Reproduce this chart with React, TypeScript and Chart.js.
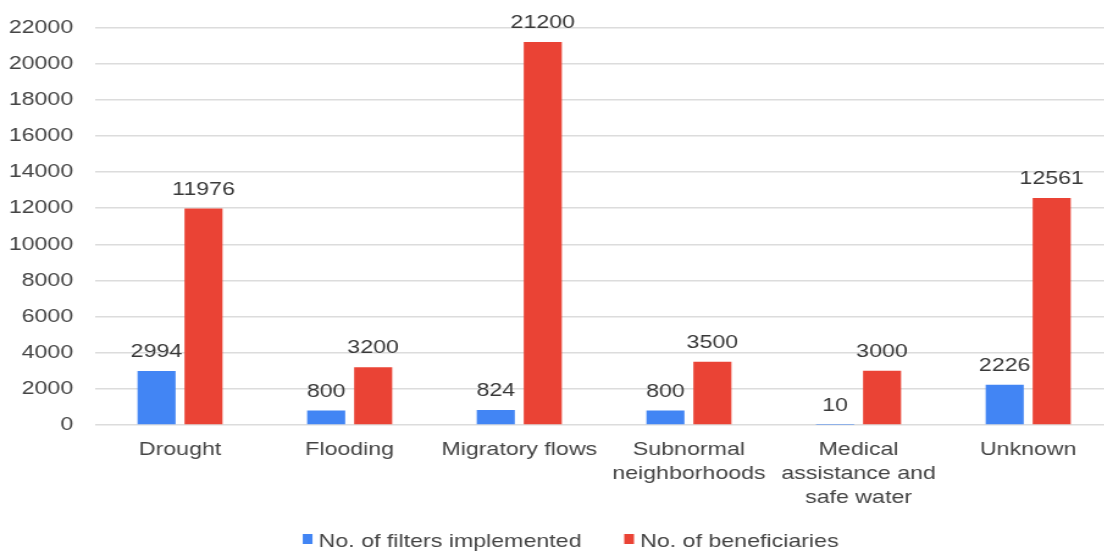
import React, { useEffect, useRef } from "react";
import { Chart, registerables } from "chart.js";

Chart.register(...registerables);

const categories: (string | string[])[] = [
  "Drought",
  "Flooding",
  "Migratory flows",
  ["Subnormal", "neighborhoods"],
  ["Medical", "assistance and", "safe water"],
  "Unknown",
];
const filtersImplemented = [2994, 800, 824, 800, 10, 2226];
const beneficiaries = [11976, 3200, 21200, 3500, 3000, 12561];
const seriesNames = ["No. of filters implemented", "No. of beneficiaries"];
const yMax = 22000;
const yStep = 2000;

const SX = 1.22;
const CW = 912;
const CH = 560;
const FONT = "'Liberation Sans', Arial, sans-serif";

const valueLabels = {
  id: "valueLabels",
  afterDatasetsDraw(chart: any) {
    const ctx = chart.ctx;
    ctx.save();
    ctx.font = `19px ${FONT}`;
    ctx.fillStyle = "#383838";
    ctx.textAlign = "center";
    ctx.textBaseline = "alphabetic";
    chart.data.datasets.forEach((ds: any, i: number) => {
      const meta = chart.getDatasetMeta(i);
      meta.data.forEach((el: any, j: number) => {
        ctx.fillText(String(ds.data[j]), el.x, el.y - 14);
      });
    });
    ctx.restore();
  },
};

// Legend drawn below the axis, centred around a fixed point
const bottomLegend = {
  id: "bottomLegend",
  afterDraw(chart: any) {
    const ctx = chart.ctx;
    ctx.save();
    ctx.font = `19px ${FONT}`;
    ctx.textBaseline = "alphabetic";
    ctx.textAlign = "left";
    const box = 8;
    const boxGap = 5;
    const itemGap = 35;
    const items = chart.data.datasets.map((ds: any) => ({
      text: ds.label,
      color: ds.backgroundColor,
      w: box + boxGap + ctx.measureText(ds.label).width,
    }));
    const total =
      items.reduce((s: number, it: any) => s + it.w, 0) +
      itemGap * (items.length - 1);
    let x = 467.6 - total / 2;
    const baseline = 547;
    items.forEach((it: any) => {
      ctx.fillStyle = it.color;
      ctx.fillRect(x, baseline - 13, box, 10);
      ctx.fillStyle = "#444";
      ctx.fillText(it.text, x + box + boxGap, baseline);
      x += it.w + itemGap;
    });
    ctx.restore();
  },
};

export default function App() {
  const ref = useRef<HTMLCanvasElement>(null);
  useEffect(() => {
    document.body.style.margin = "0";
    const chart = new Chart(ref.current!, {
      type: "bar",
      data: {
        labels: categories,
        datasets: [
          {
            label: seriesNames[0],
            data: filtersImplemented,
            backgroundColor: "#4285F4",
            categoryPercentage: 0.554,
            barPercentage: 0.81,
          },
          {
            label: seriesNames[1],
            data: beneficiaries,
            backgroundColor: "#EA4335",
            categoryPercentage: 0.554,
            barPercentage: 0.81,
          },
        ],
      },
      options: {
        responsive: false,
        animation: false,
        layout: { padding: { top: 14, left: 0, right: 0, bottom: 0 } },
        plugins: {
          tooltip: { enabled: false },
          legend: { display: false },
        },
        scales: {
          x: {
            grid: { display: false, drawTicks: false },
            border: { display: false },
            ticks: {
              color: "#444",
              padding: 13,
              maxRotation: 0,
              autoSkip: false,
              font: { family: FONT, size: 19, lineHeight: 1.26 },
            },
            afterFit(scale: any) {
              scale.height = 135;
            },
          },
          y: {
            min: 0,
            max: yMax,
            grid: { color: "#dcdcdc", lineWidth: 1.6, drawTicks: false },
            border: { display: false },
            ticks: {
              stepSize: yStep,
              color: "#444",
              padding: 18,
              font: { family: FONT, size: 19, lineHeight: 1.0 },
              callback: (v: any) => String(v),
            },
            afterFit(scale: any) {
              scale.width = 78;
            },
          },
        },
      } as any,
      plugins: [valueLabels, bottomLegend],
    });
    return () => chart.destroy();
  }, []);
  return (
    <div
      style={{
        position: "fixed",
        left: 0,
        top: 0,
        width: 1104,
        height: 552,
        overflow: "hidden",
        background: "#fff",
      }}
    >
      <canvas
        ref={ref}
        width={CW}
        height={CH}
        style={{ width: `${CW * SX}px`, height: `${CH}px`, display: "block" }}
      />
    </div>
  );
}
